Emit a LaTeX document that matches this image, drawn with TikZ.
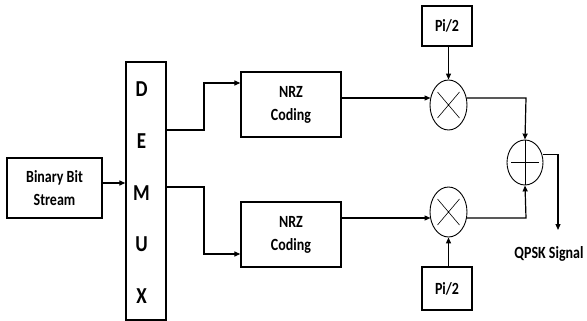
\documentclass[tikz,border=0pt]{standalone}
\usepackage{fontspec}
\setmainfont{Carlito}
\usetikzlibrary{arrows.meta,shapes.geometric,calc}
\newcommand{\tx}[1]{\scalebox{1}[1.22]{#1}}
\newcommand{\bx}[1]{\scalebox{1}[1.2]{#1}}
\begin{document}
\begin{tikzpicture}[x=1pt,y=-1pt,
  line width=1.2pt,
  box/.style={draw,line width=1.3pt,inner sep=0pt,font=\bfseries\fontsize{14}{23}\selectfont,align=center},
  op/.style={draw,ellipse,line width=0.9pt,minimum width=37pt,minimum height=50pt,inner sep=0pt},
  arr/.style={-{Triangle[length=6pt,width=5pt]}},
  lbl/.style={font=\bfseries\fontsize{14}{16}\selectfont}]
\useasboundingbox (0,0) rectangle (587,321);
\node[box,minimum width=95pt,minimum height=60pt] (bin) at (54.5,188) {\tx{Binary Bit}\\\tx{Stream}};
\node[box,minimum width=40pt,minimum height=258pt] (demux) at (146,191) {};
\foreach \l/\yy in {D/89,E/141,M/193,U/244,X/296}
  \node[font=\bfseries\fontsize{19}{21}\selectfont] at (141.5,\yy) {\bx{\l}};
\node[box,minimum width=100pt,minimum height=65pt] (nrz1) at (291,104.5) {\tx{NRZ}\\\tx{Coding}};
\node[box,minimum width=100pt,minimum height=65pt] (nrz2) at (291,234.5) {\tx{NRZ}\\\tx{Coding}};
\node[op,minimum width=37pt,minimum height=50pt] (m1) at (448.5,105) {};
\draw[line width=0.6pt] ($(m1.center)+(-11,-13)$) -- ($(m1.center)+(11,13)$)
  ($(m1.center)+(-11,13)$) -- ($(m1.center)+(11,-13)$);
\node[op] (m2) at (448.5,212) {};
\draw[line width=0.6pt] ($(m2.center)+(-11,-13)$) -- ($(m2.center)+(11,13)$)
  ($(m2.center)+(-11,13)$) -- ($(m2.center)+(11,-13)$);
\node[op,minimum width=36pt,minimum height=45pt] (add) at (525,162.5) {};
\draw[line width=0.9pt] ($(add.center)+(-14,0)$) -- ($(add.center)+(14,0)$)
  (add.north) -- (add.south);
\node[box,minimum width=50pt,minimum height=40pt] (p1) at (447,26) {\tx{Pi/2}};
\node[box,minimum width=50pt,minimum height=43pt] (p2) at (447,288.5) {\tx{Pi/2}};
\coordinate (out) at (558,230);
\node[lbl] (q) at (549,254) {\tx{QPSK Signal}};
\draw[arr] (bin.east |- 0,183) -- (demux.west |- 0,183);
\draw[arr] (demux.east |- 0,130) -- (204,130) -- (204,83) -- (nrz1.west |- 0,83);
\draw[arr] (demux.east |- 0,187) -- (204,187) -- (204,254) -- (nrz2.west |- 0,254);
\draw[arr] (nrz1.east |- 0,98) -- ($(m1.center)+(-18,-7)$);
\draw[arr] (nrz2.east |- 0,218) -- ($(m2.center)+(-18,6)$);
\draw[arr] (p1.south -| m1.north) -- (m1.north);
\draw[arr] (p2.north -| m2.south) -- (m2.south);
\draw[arr] ($(m1.center)+(18,-7)$) -- (526,98) -- (add.north);
\draw[arr] ($(m2.center)+(18,6)$) -- (526,218) -- (add.south);
\draw[arr] ($(add.center)+(18,-8)$) -- (out |- 0,154.5) -- (out);
\end{tikzpicture}
\end{document}
